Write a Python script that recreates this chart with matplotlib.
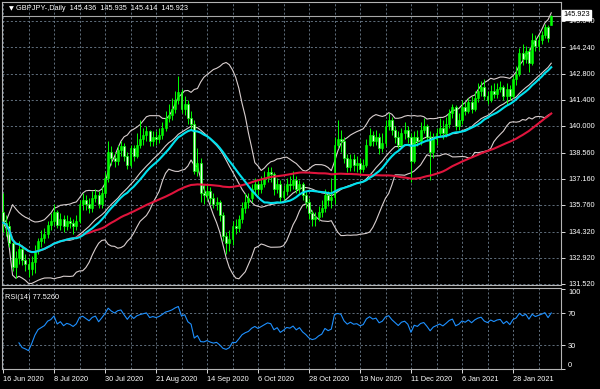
import numpy as np
import pandas as pd
import matplotlib
matplotlib.use('Agg')
import matplotlib.pyplot as plt

plt.rcParams['font.family'] = ['Liberation Sans', 'DejaVu Sans']

# header of the chart window
header = "GBPJPY-,Daily  145.436  145.935  145.414  145.923"
rsi_header = "RSI(14) 77.5260"
first_open = 135.4
last_open = 145.436
last_price = 145.923

# daily closes, 16 Jun 2020 .. 15 Feb 2021
closes = [
    134.8, 134.6, 133.7, 132.4, 132.9, 133.4, 132.8, 132.6, 132.3, 132.7, 133.3, 133.8, 134.0, 134.2, 134.7, 134.9,
    135.4, 134.7, 135.0, 134.6, 134.9, 134.8, 134.6, 134.9, 135.8, 136.0, 135.8, 135.6, 136.1, 136.3, 135.8, 136.4,
    137.2, 138.6, 138.3, 138.1, 138.7, 138.9, 138.4, 137.9, 138.8, 138.4, 139.0, 139.3, 139.5, 139.7, 139.2, 139.4,
    139.3, 139.5, 139.9, 140.4, 140.6, 140.9, 141.4, 141.8, 140.9, 141.2, 140.4, 140.1, 137.6, 138.0, 136.4, 136.3,
    136.5, 136.1, 135.8, 135.9, 135.2, 134.1, 133.7, 133.9, 134.6, 134.5, 135.0, 135.6, 135.9, 136.1, 136.6, 136.9,
    136.6, 136.9, 137.2, 137.5, 137.4, 136.6, 136.9, 136.2, 136.5, 136.9, 136.8, 137.1, 136.6, 136.9, 136.3, 135.9,
    135.3, 135.0, 135.1, 135.4, 135.6, 136.3, 136.0, 136.2, 139.0, 139.3, 139.2, 138.3, 137.8, 138.2, 137.9, 138.0,
    137.7, 137.9, 139.0, 139.5, 139.2, 139.4, 138.8, 139.1, 140.0, 140.3, 139.8, 139.4, 139.0, 139.6, 139.8, 139.4,
    138.1, 139.4, 139.2, 139.8, 140.0, 139.4, 138.6, 139.3, 139.6, 139.9, 139.6, 140.1, 140.7, 141.0, 140.0, 140.3,
    141.0, 140.8, 141.3, 140.9, 141.5, 141.9, 142.1, 141.6, 141.4, 141.9, 141.7, 142.0, 142.1, 141.6, 142.0, 141.6,
    142.5, 142.8, 143.9, 143.6, 144.0, 143.4, 144.6, 144.3, 144.6, 144.9, 145.3, 144.7, 145.923,
]
highs = [
    136.4, 135.2, 134.9, 133.9, 133.3, 133.8, 133.6, 133.1, 132.9, 133.0, 133.6, 134.0, 134.4, 134.5, 134.9, 135.3,
    135.8, 135.5, 135.3, 135.2, 135.2, 135.1, 135.0, 135.2, 136.0, 136.4, 136.3, 136.1, 136.5, 136.6, 136.5, 136.7,
    137.5, 139.2, 138.9, 138.6, 139.0, 139.2, 139.1, 138.6, 139.0, 139.0, 139.6, 140.3, 139.9, 140.0, 139.8, 139.7,
    139.7, 139.9, 140.2, 140.8, 141.2, 141.5, 141.9, 142.7, 142.0, 141.6, 141.4, 140.8, 140.3, 138.8, 138.3, 136.9,
    136.8, 136.7, 136.4, 136.2, 136.0, 135.4, 134.3, 134.4, 134.9, 135.0, 135.2, 135.9, 136.4, 136.4, 136.9, 137.2,
    137.1, 137.3, 137.6, 137.8, 137.8, 137.5, 137.2, 137.1, 136.8, 137.2, 137.3, 137.6, 137.3, 137.1, 137.0, 136.5,
    136.1, 135.5, 135.4, 135.7, 136.0, 136.6, 136.5, 137.2, 139.4, 140.3, 139.8, 139.4, 138.5, 138.5, 138.5, 138.4,
    138.3, 138.2, 139.3, 139.9, 139.7, 139.8, 139.6, 139.6, 140.3, 140.7, 140.5, 140.0, 139.7, 139.9, 140.2, 140.0,
    139.6, 139.7, 139.8, 140.2, 140.4, 140.1, 139.7, 139.6, 139.9, 140.4, 140.3, 140.5, 140.9, 141.2, 141.1, 140.7,
    141.4, 141.3, 141.5, 141.6, 141.9, 142.3, 142.4, 142.5, 141.9, 142.2, 142.3, 142.3, 142.4, 142.2, 142.3, 142.2,
    142.7, 143.2, 144.2, 144.4, 144.3, 144.2, 145.0, 144.9, 144.9, 145.1, 145.5, 145.4, 145.935,
]
lows = [
    134.3, 134.1, 133.5, 132.2, 131.8, 132.6, 132.5, 132.2, 131.9, 132.0, 132.1, 133.1, 133.5, 133.7, 134.0, 134.4,
    134.7, 134.5, 134.4, 134.3, 134.4, 134.5, 134.2, 134.4, 134.8, 135.5, 135.5, 135.3, 135.4, 135.9, 135.6, 135.6,
    136.2, 137.0, 137.9, 137.8, 137.9, 138.4, 138.1, 137.7, 137.8, 138.1, 138.3, 138.8, 139.0, 139.2, 138.9, 138.9,
    139.0, 139.1, 139.3, 139.7, 140.2, 140.3, 140.7, 141.2, 140.7, 140.6, 140.1, 139.8, 137.4, 137.3, 135.9, 135.8,
    136.0, 135.8, 135.6, 135.5, 134.9, 133.8, 133.1, 133.3, 133.6, 134.2, 134.3, 134.8, 135.3, 135.6, 135.9, 136.3,
    136.3, 136.4, 136.7, 137.0, 137.0, 136.3, 136.4, 135.9, 136.0, 136.3, 136.5, 136.6, 136.4, 136.4, 136.0, 135.6,
    135.0, 134.6, 134.6, 134.9, 135.1, 135.4, 135.7, 135.6, 135.8, 138.8, 138.6, 138.0, 137.5, 137.6, 137.6, 137.5,
    137.4, 137.5, 137.8, 138.9, 138.9, 139.0, 138.5, 138.6, 138.9, 139.8, 139.5, 139.1, 138.8, 138.9, 139.3, 139.1,
    137.0, 138.0, 138.9, 139.0, 139.6, 139.2, 137.1, 138.3, 139.0, 139.4, 139.3, 139.4, 139.9, 140.4, 139.8, 139.8,
    140.1, 140.6, 140.7, 140.7, 140.8, 141.3, 141.6, 141.4, 141.2, 141.3, 141.5, 141.5, 141.8, 141.4, 141.2, 141.4,
    141.5, 142.2, 142.7, 143.3, 143.4, 142.9, 143.3, 144.0, 144.1, 144.4, 144.7, 144.5, 145.414,
]

price_labels = ["131.520", "132.920", "134.320", "135.760", "137.160", "138.560",
                "140.000", "141.400", "142.800", "144.240", "145.640"]
date_labels = ["16 Jun 2020", "8 Jul 2020", "30 Jul 2020", "21 Aug 2020", "14 Sep 2020",
               "6 Oct 2020", "28 Oct 2020", "19 Nov 2020", "11 Dec 2020", "6 Jan 2021", "28 Jan 2021"]
rsi_levels = [0, 30, 70, 100]

# bars: business days without 25 Dec / 1 Jan
dates = pd.bdate_range("2020-06-16", "2021-02-15")
dates = dates[~((dates.month == 12) & (dates.day == 25)) & ~((dates.month == 1) & (dates.day == 1))]
n = len(closes)
x = np.arange(n)

c = np.array(closes)
h = np.array(highs)
l = np.array(lows)
o = np.concatenate([[first_open], c[:-1]])
o[-1] = last_open

s = pd.Series(c)
bb_mid = s.rolling(20, min_periods=1).mean()
bb_std = s.rolling(20, min_periods=1).std(ddof=0).fillna(0)
bb_up = bb_mid + 2 * bb_std
bb_dn = bb_mid - 2 * bb_std
ma_fast = s.rolling(23, min_periods=1).mean()
ma_slow = s.rolling(70, min_periods=1).mean()

delta = s.diff()
gain = delta.clip(lower=0).ewm(alpha=1 / 14, adjust=True, min_periods=5).mean()
loss = (-delta.clip(upper=0)).ewm(alpha=1 / 14, adjust=True, min_periods=5).mean()
rsi = 100 - 100 / (1 + gain / loss)

W, H = 600, 389
fs = 5.3
fig = plt.figure(figsize=(6, 3.89), dpi=100, facecolor='black')
ax = fig.add_axes([2 / W, (H - 285) / H, 559 / W, 283 / H], facecolor='black')
rax = fig.add_axes([2 / W, (H - 369) / H, 559 / W, 81 / H], facecolor='black')

grid_kw = dict(color='#6f7f8f', lw=0.6, ls=(0, (2.5, 2.5)), zorder=0)
xl = (-1 / 3.1875, 558 / 3.1875)
for a in (ax, rax):
    a.set_xlim(*xl)
    for gx in range(0, n + 3, 8):
        a.axvline(gx, **grid_kw)
    for sp in a.spines.values():
        sp.set_color('#b4b4b4')
        sp.set_linewidth(0.8)

price_vals = [float(p) for p in price_labels]
for p in price_vals:
    ax.axhline(p, **grid_kw)
ax.set_ylim(131.45, 146.66)

# candles
up = c >= o
ax.vlines(x, l, h, color='#00ff00', lw=0.7, zorder=3)
ax.bar(x[up], (c - o)[up], bottom=o[up], width=0.6, color='#00ff00',
       edgecolor='#00ff00', lw=0.4, zorder=4)
ax.bar(x[~up], (o - c)[~up], bottom=c[~up], width=0.6, color='#eaffea',
       edgecolor='#00ff00', lw=0.5, zorder=4)

ax.plot(x, bb_up, color='#d9cfcf', lw=0.8, zorder=2)
ax.plot(x, bb_mid, color='#d9cfcf', lw=0.8, zorder=2)
ax.plot(x, bb_dn, color='#d9cfcf', lw=0.8, zorder=2)
ax.plot(x, ma_slow, color='#e0143c', lw=1.5, zorder=5)
ax.plot(x, ma_fast, color='#00e1ee', lw=1.5, zorder=5)

ax.axhline(last_price, color='#a8a8a8', lw=0.8, zorder=1)

ax.yaxis.tick_right()
ax.set_yticks(price_vals)
ax.set_yticklabels(price_labels)
ax.tick_params(axis='y', colors='white', labelsize=fs, length=3, width=0.6, pad=2)
ax.tick_params(axis='x', length=0, labelbottom=False)

ax.text(0.012, 0.985, "\u25bc", transform=ax.transAxes, color='white', fontsize=4.5,
        va='top', ha='left', family='DejaVu Sans')
ax.text(0.025, 0.99, header, transform=ax.transAxes, color='white', fontsize=fs,
        va='top', ha='left')
fig.text(563 / W, (H - 15) / H, f"{last_price:.3f}", color='black', fontsize=fs,
         va='center', ha='left',
         bbox=dict(boxstyle='square,pad=0.2', fc='white', ec='white'))

# RSI panel
rax.set_ylim(0, 101.25)
for lv in (30, 70):
    rax.axhline(lv, **grid_kw)
rax.plot(x, rsi, color='#1e90ff', lw=0.8, zorder=3)
rax.yaxis.tick_right()
rax.set_yticks(rsi_levels)
rax.set_yticklabels([str(v) for v in rsi_levels])
rax.tick_params(axis='y', colors='white', labelsize=fs, length=3, width=0.6, pad=2)
ylabs = rax.get_yticklabels()
ylabs[0].set_va('bottom')
ylabs[-1].set_va('top')
rax.text(0.006, 0.93, rsi_header, transform=rax.transAxes, color='white',
         fontsize=fs, va='top', ha='left')

tick_pos = [dates.get_loc(pd.Timestamp(d)) for d in date_labels]
rax.set_xticks(tick_pos)
rax.set_xticklabels(date_labels, ha='left')
rax.tick_params(axis='x', colors='white', labelsize=fs, length=3, width=0.6, pad=2)

fig.savefig('out.png', dpi=100, facecolor='black')
